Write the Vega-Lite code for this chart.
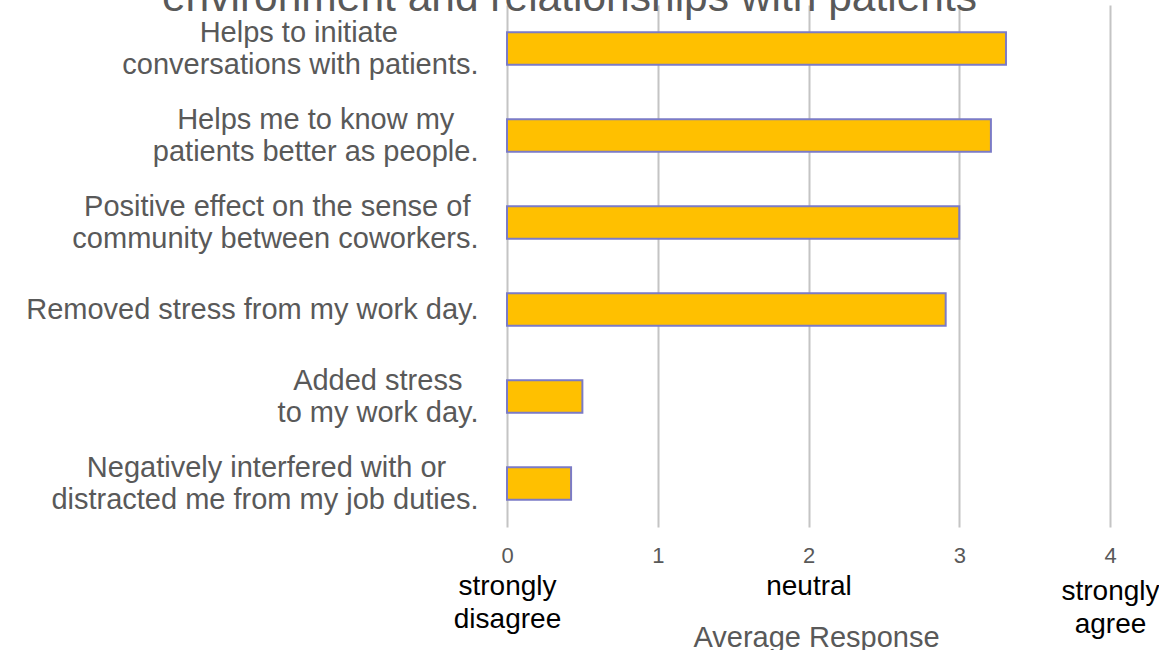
{
  "$schema": "https://vega.github.io/schema/vega-lite/v6.json",
  "autosize": {"type": "none"},
  "padding": {"left": 507, "top": 5, "right": 49, "bottom": 123},
  "width": 603,
  "height": 522,
  "background": "white",
  "config": {
    "font": "Liberation Sans",
    "view": {"stroke": null}
  },
  "title": {
    "text": "environment  and relationships  with patients",
    "fontSize": 42.5,
    "fontWeight": "normal",
    "color": "#595959",
    "anchor": "middle",
    "baseline": "alphabetic",
    "offset": -41,
    "dy": 7,
    "dx": -239
  },
  "data": {
    "values": [
      {"item": "Helps to initiate\u00a0\u00a0\u00a0\u00a0\u00a0\u00a0\u00a0\u00a0\u00a0\u00a0\u200b|conversations with patients.", "value": 3.31},
      {"item": "Helps me to know my\u00a0\u00a0\u00a0\u200b|patients better as people.", "value": 3.21},
      {"item": "Positive effect on the sense of\u00a0\u200b|community between coworkers.", "value": 3.0},
      {"item": "Removed stress from my work day.", "value": 2.91},
      {"item": "Added stress\u00a0\u00a0\u200b|to my work day.", "value": 0.5},
      {"item": "Negatively interfered with or\u00a0\u00a0\u00a0\u00a0\u200b|distracted me from my job duties.", "value": 0.425}
    ]
  },
  "encoding": {
    "y": {
      "field": "item",
      "type": "nominal",
      "sort": null,
      "scale": {"paddingInner": 0.625, "paddingOuter": 0.3125},
      "axis": {
        "title": null,
        "labelExpr": "split(datum.label, '|')",
        "labelFontSize": 29,
        "labelLineHeight": 32,
        "labelColor": "#595959",
        "labelPadding": 29,
        "labelLimit": 600,
        "labelOffset": {"condition": {"test": "indexof(datum.value, '|') >= 0", "value": -16}, "value": 0},
        "ticks": false,
        "domain": false,
        "grid": false
      }
    }
  },
  "layer": [
    {
      "mark": {"type": "bar", "fill": "#FFC000", "stroke": "#7B7BC6", "strokeWidth": 2},
      "encoding": {
        "x": {
          "field": "value",
          "type": "quantitative",
          "scale": {"domain": [0, 4], "nice": false},
          "axis": {
            "orient": "bottom",
            "values": [0, 1, 2, 3, 4],
            "title": null,
            "grid": true,
            "gridColor": "#C4C4C4",
            "gridWidth": 2,
            "ticks": false,
            "domain": false,
            "labelFontSize": 22,
            "labelColor": "#595959",
            "labelPadding": 18,
            "labelFlush": false,
            "labelOverlap": false
          }
        }
      }
    },
    {
      "mark": {"type": "point", "opacity": 0},
      "encoding": {
        "x": {
          "field": "value",
          "type": "quantitative",
          "scale": {"domain": [0, 4], "nice": false},
          "axis": {
            "orient": "bottom",
            "values": [0, 2, 4],
            "labelExpr": "datum.value == 0 ? ['strongly', 'disagree'] : datum.value == 2 ? 'neutral' : ['strongly', 'agree']",
            "labelFontSize": 28,
            "labelLineHeight": 33,
            "labelColor": "#000000",
            "labelPadding": {"condition": {"test": "datum.value == 4", "value": 50}, "value": 45},
            "labelFlush": false,
            "labelOverlap": false,
            "labelBound": false,
            "grid": false,
            "ticks": false,
            "domain": false,
            "title": "Average Response",
            "titleFontSize": 29,
            "titleFontWeight": "normal",
            "titleColor": "#595959",
            "titleBaseline": "alphabetic",
            "titleY": 119,
            "titleX": 309
          }
        }
      }
    }
  ],
  "resolve": {"scale": {"x": "independent"}, "axis": {"x": "independent"}}
}
